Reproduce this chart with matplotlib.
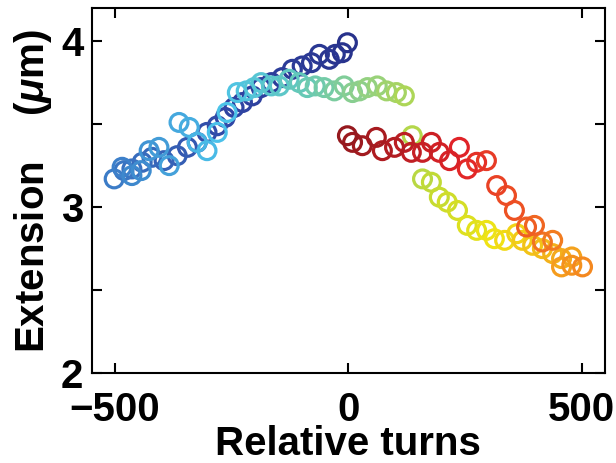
import matplotlib
matplotlib.use('Agg')
import matplotlib.pyplot as plt
from matplotlib.colors import LinearSegmentedColormap
import numpy as np

# relative turns / extension (um), in the order they were recorded
# first sweep: going negative from 0
turns_a = [-2, -13, -28, -41, -62, -79, -99, -120, -142, -165, -187, -206, -227,
           -245, -264, -281, -303, -324, -345, -367, -395, -421, -442, -464, -481, -502]
ext_a = [3.99, 3.93, 3.92, 3.89, 3.92, 3.87, 3.85, 3.83, 3.78, 3.75, 3.72, 3.67, 3.63,
         3.60, 3.54, 3.49, 3.45, 3.39, 3.36, 3.31, 3.28, 3.30, 3.27, 3.23, 3.22, 3.17]
# back up towards positive turns
turns_b = [-485, -464, -444, -427, -406, -384, -363, -341, -324, -303, -281, -260, -238,
           -219, -202, -187, -165, -148, -127, -105, -88, -71, -52, -30, -9, 9, 24, 41,
           62, 82, 103, 120]
ext_b = [3.24, 3.19, 3.22, 3.34, 3.36, 3.25, 3.51, 3.48, 3.39, 3.34, 3.45, 3.57, 3.69,
         3.70, 3.72, 3.75, 3.73, 3.73, 3.77, 3.75, 3.72, 3.73, 3.72, 3.70, 3.73, 3.69, 3.70, 3.72,
         3.73, 3.70, 3.69, 3.67]
turns_c = [137, 159, 178, 195, 212, 234, 255, 275, 296, 313, 335, 361, 373, 395, 416,
           438, 457, 479, 457, 479, 502]
ext_c = [3.43, 3.17, 3.15, 3.06, 3.03, 2.98, 2.89, 2.86, 2.86, 2.81, 2.80, 2.84, 2.80, 2.77, 2.75,
         2.72, 2.69, 2.70, 2.64, 2.65, 2.64]
# and back to 0
turns_d = [438, 416, 399, 382, 356, 339, 318, 296, 275, 255, 238, 217, 195, 178, 159,
           135, 120, 99, 73, 60, 30, 9, -2]
ext_d = [2.80, 2.79, 2.89, 2.88, 2.98, 3.07, 3.13, 3.28, 3.27, 3.23, 3.36, 3.28, 3.33, 3.39, 3.33,
         3.33, 3.39, 3.36, 3.34, 3.42, 3.37, 3.39, 3.43]

xticks = [-500, 0, 500]
yticks = [2, 2.5, 3, 3.5, 4]

turns = np.array(turns_a + turns_b + turns_c + turns_d)
ext = np.array(ext_a + ext_b + ext_c + ext_d)

plt.rcParams['font.family'] = ['Liberation Sans', 'DejaVu Sans']
plt.rcParams['font.weight'] = 'bold'
plt.rcParams['mathtext.fontset'] = 'custom'
plt.rcParams['mathtext.it'] = 'Liberation Sans:italic:bold'
plt.rcParams['mathtext.rm'] = 'Liberation Sans:bold'

# a softer jet, closer to the printed colours
anchors = [(0.0, (40, 50, 140)), (0.14, (48, 70, 165)), (0.25, (60, 125, 200)),
           (0.36, (75, 195, 235)), (0.45, (100, 200, 185)), (0.52, (145, 208, 135)),
           (0.6, (195, 218, 50)), (0.66, (240, 228, 20)), (0.76, (245, 150, 30)),
           (0.82, (238, 85, 35)), (0.88, (225, 35, 40)), (1.0, (150, 25, 30))]
soft_jet = LinearSegmentedColormap.from_list(
    'soft_jet', [(t, tuple(v / 255 for v in c)) for t, c in anchors])

fig = plt.figure(figsize=(6.16, 4.63), dpi=100)
ax = fig.add_axes([0.149, 0.194, 0.833, 0.789])

cols = soft_jet(np.linspace(0, 1, len(turns)))
ax.scatter(turns, ext, s=165, facecolors='none', edgecolors=cols, linewidths=2.3)

ax.set_xlim(-550, 550)
ax.set_ylim(2, 4.2)
ax.set_xticks(xticks)
ax.set_yticks(yticks)
ax.set_yticklabels(['{:g}'.format(t) if t == int(t) else '' for t in yticks])
ax.tick_params(direction='in', length=7, width=1.5, top=True, right=True, labelsize=29)
ax.tick_params(axis='x', pad=13)
ax.tick_params(axis='y', pad=6)
for s in ax.spines.values():
    s.set_linewidth(1.5)

ax.set_xlabel('Relative turns', fontsize=29, fontweight='bold', labelpad=-3)
ax.set_ylabel(r'Extension    ($\mu$m)', fontsize=29, fontweight='bold', labelpad=5)

fig.savefig('out.png', dpi=100)
